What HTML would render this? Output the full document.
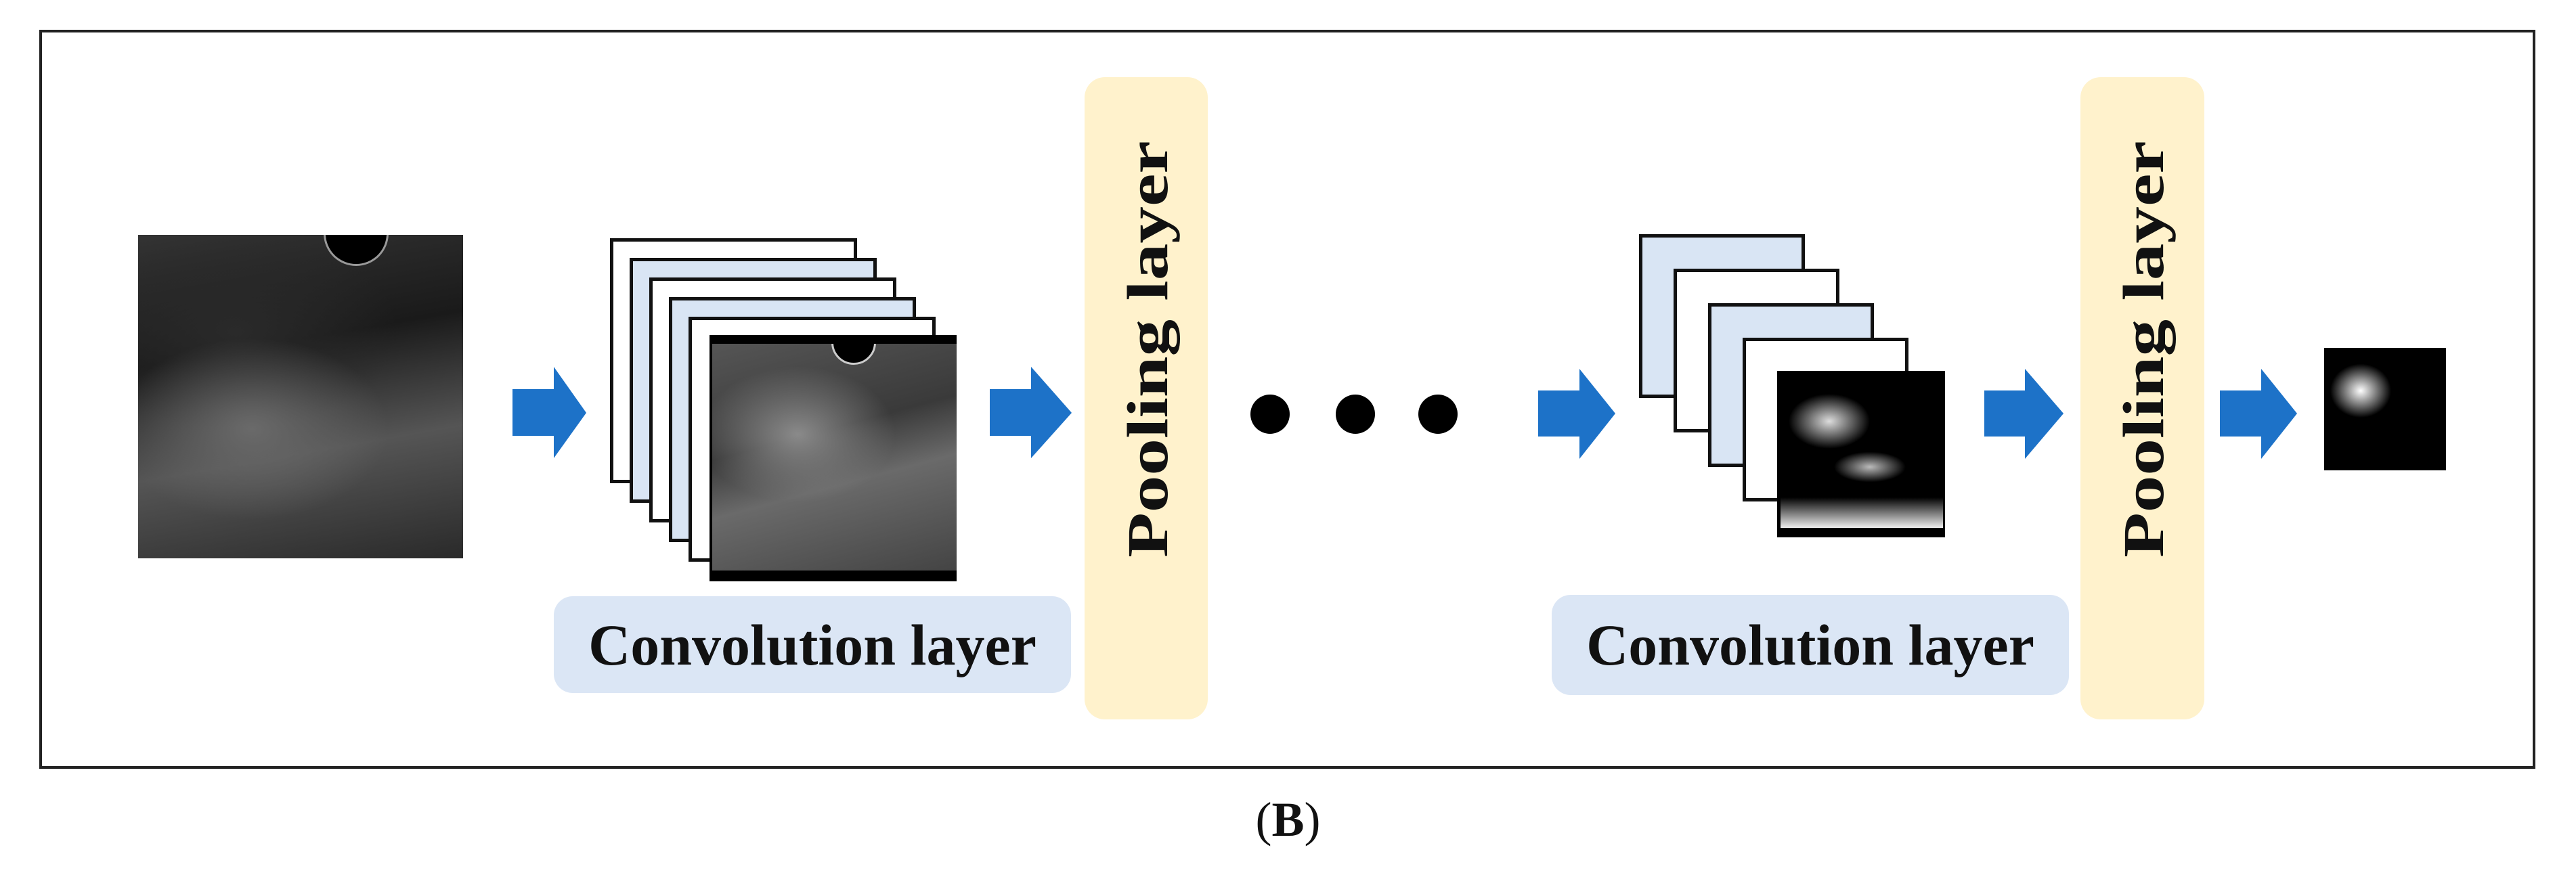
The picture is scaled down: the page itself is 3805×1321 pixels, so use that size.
<!DOCTYPE html>
<html><head><meta charset="utf-8"><style>
body{margin:0;background:#fff;}
#c{position:relative;width:3805px;height:1321px;overflow:hidden;background:#fff;font-family:"Liberation Serif",serif;}
.a{position:absolute;}
.fr{position:absolute;border:5px solid #111;box-sizing:border-box;}
.w{background:#fff}.b{background:#d9e5f4}
.lbl{position:absolute;background:#dbe6f5;border-radius:28px;font-weight:bold;font-size:86px;display:flex;align-items:center;justify-content:center;color:#111;}
.pool{position:absolute;background:#fff2cc;border-radius:30px;}
.pt{position:absolute;font-weight:bold;font-size:86px;white-space:nowrap;transform:translate(-50%,-50%) rotate(-90deg) scaleX(1.27);color:#111;}
.dot{position:absolute;width:58px;height:58px;border-radius:50%;background:#000;}
</style></head><body><div id="c">
<div class="a" style="left:58px;top:44px;width:3687px;height:1092px;border:4px solid #222;box-sizing:border-box;"></div>

<!-- input ultrasound -->
<div class="a" style="left:204px;top:347px;width:480px;height:478px;background:radial-gradient(ellipse 60% 40% at 35% 60%,#6a6a6a,rgba(0,0,0,0) 70%),radial-gradient(ellipse 50% 30% at 30% 30%,#2a2a2a,rgba(0,0,0,0)),linear-gradient(170deg,#333 0%,#1a1a1a 35%,#555 65%,#2a2a2a 100%);overflow:hidden;">
<div class="a" style="left:274px;top:-50px;width:96px;height:96px;border-radius:50%;background:#000;border:3px solid #999;box-sizing:border-box;"></div>
</div>

<!-- arrows -->
<svg class="a" style="left:0;top:0" width="3805" height="1321">
<g fill="#1d72c8">
<polygon points="757,575 818,575 818,542 866,610 818,677 818,644 757,644"/>
<polygon points="1462,575 1523,575 1523,542 1583,610 1523,677 1523,644 1462,644"/>
<polygon points="2272,577 2333,577 2333,545 2386,611 2333,678 2333,645 2272,645"/>
<polygon points="2931,577 2991,577 2991,545 3048,611 2991,678 2991,645 2931,645"/>
<polygon points="3279,577 3340,577 3340,545 3393,611 3340,678 3340,645 3279,645"/>
</g></svg>

<!-- stack 1 -->
<div class="fr w" style="left:901px;top:352px;width:365px;height:362px"></div>
<div class="fr b" style="left:930px;top:381px;width:365px;height:362px"></div>
<div class="fr w" style="left:959px;top:410px;width:365px;height:362px"></div>
<div class="fr b" style="left:988px;top:439px;width:365px;height:362px"></div>
<div class="fr w" style="left:1017px;top:468px;width:365px;height:362px"></div>
<div class="a" style="left:1048px;top:495px;width:365px;height:364px;background:#000;"></div>
<div class="a" style="left:1052px;top:508px;width:361px;height:335px;background:radial-gradient(ellipse 40% 30% at 35% 40%,#8a8a8a,rgba(0,0,0,0)),linear-gradient(165deg,#555 0%,#3a3a3a 40%,#6a6a6a 60%,#444 100%);overflow:hidden;">
<div class="a" style="left:176px;top:-35px;width:66px;height:66px;border-radius:50%;background:#000;border:3px solid #ccc;box-sizing:border-box;"></div>
</div>

<div class="lbl" style="left:818px;top:881px;width:764px;height:143px">Convolution layer</div>
<div class="pool" style="left:1602px;top:114px;width:182px;height:949px"></div>
<div class="pt" style="left:1695px;top:516px">Pooling layer</div>

<div class="dot" style="left:1847px;top:583px"></div>
<div class="dot" style="left:1973px;top:583px"></div>
<div class="dot" style="left:2095px;top:583px"></div>

<!-- stack 2 -->
<div class="fr b" style="left:2421px;top:346px;width:245px;height:242px"></div>
<div class="fr w" style="left:2472px;top:397px;width:245px;height:242px"></div>
<div class="fr b" style="left:2523px;top:448px;width:245px;height:242px"></div>
<div class="fr w" style="left:2574px;top:499px;width:245px;height:242px"></div>
<div class="a" style="left:2625px;top:548px;width:248px;height:246px;background:#000;"></div>
<div class="a" style="left:2630px;top:555px;width:240px;height:225px;background:radial-gradient(ellipse 25% 18% at 30% 30%,#ddd,rgba(0,0,0,0)),radial-gradient(ellipse 22% 10% at 55% 60%,#bbb,rgba(0,0,0,0)),linear-gradient(180deg,#000 80%,#eee 100%);"></div>

<div class="lbl" style="left:2292px;top:879px;width:764px;height:148px">Convolution layer</div>
<div class="pool" style="left:3073px;top:114px;width:183px;height:949px"></div>
<div class="pt" style="left:3166px;top:516px">Pooling layer</div>

<div class="a" style="left:3433px;top:514px;width:180px;height:181px;background:radial-gradient(ellipse 25% 22% at 30% 35%,#fff,#999 40%,rgba(0,0,0,0) 100%),#000;"></div>

<div class="a" style="left:0;top:1170px;width:3805px;text-align:center;font-size:72px;color:#111;">(<b>B</b>)</div>
</div></body></html>
